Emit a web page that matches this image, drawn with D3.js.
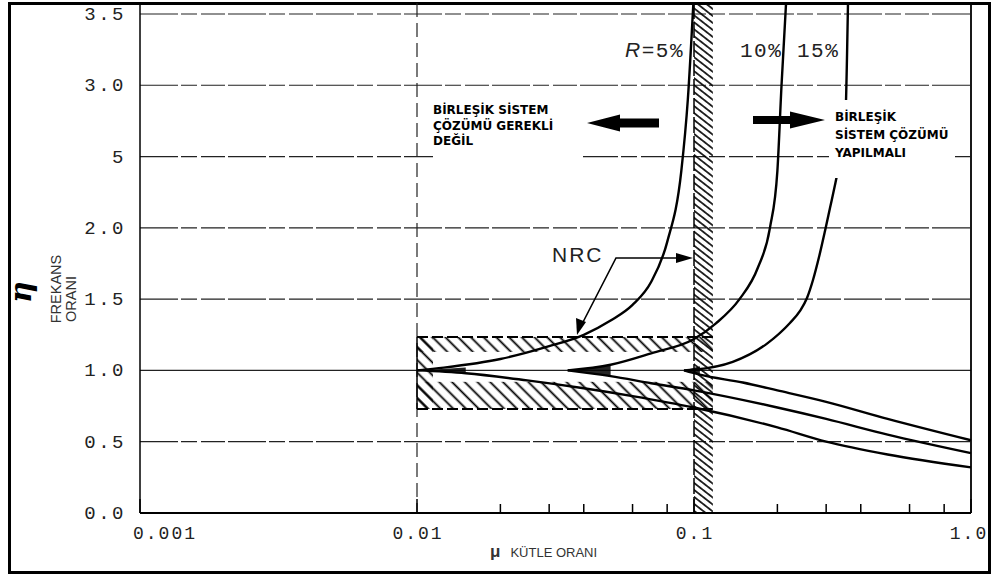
<!DOCTYPE html>
<html><head><meta charset="utf-8">
<script src="https://cdn.jsdelivr.net/npm/d3@7"></script>
<style>body{margin:0;background:#fff}svg{display:block}</style>
</head><body>
<svg id="c" width="992" height="577"></svg>
<script>
// ---- data ----
const xTicks = [0.001, 0.01, 0.1, 1.0];
const xTickLabels = ["0.001", "0.01", "0.1", "1.0"];
const xMinorTicks = [0.02, 0.03, 0.04, 0.06, 0.08, 0.2, 0.3, 0.4, 0.6, 0.8];
const yTicks = [0, 0.5, 1.0, 1.5, 2.0, 2.5, 3.0, 3.5];
const yTickLabels = ["0.0", "0.5", "1.0", "1.5", "2.0", "5", "3.0", "3.5"];
const seriesNames = ["R=5%", "10%", "15%"];
const upper5  = [[0.01,1.0],[0.0125,1.02],[0.02,1.08],[0.03,1.17],[0.04,1.25],[0.05,1.35],[0.06,1.46],[0.07,1.62],[0.08,1.9],[0.09,2.4],[0.095,2.9],[0.0995,3.58]];
const upper10 = [[0.035,1.0],[0.05,1.04],[0.07,1.12],[0.1,1.22],[0.12,1.33],[0.146,1.5],[0.17,1.72],[0.188,2.0],[0.2,2.4],[0.207,3.0],[0.215,3.58]];
const upper15 = [[0.092,1.0],[0.1,1.005],[0.138,1.06],[0.184,1.19],[0.222,1.333],[0.2414,1.417],[0.2558,1.508],[0.2689,1.634],[0.2827,1.795],[0.2971,1.978],[0.3097,2.139],[0.3228,2.3],[0.3365,2.476],[0.3508,2.686],[0.3597,3.577]];
const lower5  = [[0.01,1.0],[0.015,0.98],[0.025,0.93],[0.04,0.875],[0.06,0.82],[0.1,0.74],[0.2,0.6],[0.3,0.5],[0.5,0.41],[1.0,0.32]];
const lower10 = [[0.035,1.0],[0.05,0.96],[0.07,0.91],[0.1,0.86],[0.2,0.74],[0.3,0.66],[0.5,0.55],[1.0,0.42]];
const lower15 = [[0.092,1.0],[0.105,0.97],[0.15,0.915],[0.2,0.86],[0.3,0.78],[0.5,0.66],[1.0,0.51]];
const nrcBox = {muMin: 0.01, muMax: 0.117, etaLow: 0.73, etaHigh: 1.235};
const nrcBand = {muMin: 0.1, muMax: 0.117};
const leftNote = ["BİRLEŞİK SİSTEM", "ÇÖZÜMÜ GEREKLİ", "DEĞİL"];
const rightNote = ["BİRLEŞİK", "SİSTEM ÇÖZÜMÜ", "YAPILMALI"];

// ---- layout ----
const svg = d3.select("#c");
const x = d3.scaleLog().domain([0.001, 1]).range([140, 971]);
const y = d3.scaleLinear().domain([0, 3.577]).range([513, 3]);

// frame
svg.append("rect").attr("x", 9.5).attr("y", 3.5).attr("width", 980).attr("height", 569)
  .attr("fill", "none").attr("stroke", "#000").attr("stroke-width", 3);

const defs = svg.append("defs");
function hatch(id, s, rot, w) {
  const p = defs.append("pattern").attr("id", id).attr("patternUnits", "userSpaceOnUse")
    .attr("width", s).attr("height", s).attr("patternTransform", `rotate(${rot})`);
  p.append("line").attr("x1", s/2).attr("y1", 0).attr("x2", s/2).attr("y2", s)
    .attr("stroke", "#000").attr("stroke-width", w);
}
hatch("hStrip", 9, -45, 1.8);
hatch("hBand", 5.5, -52, 1.6);

// horizontal grid lines
svg.append("g").selectAll("line").data(yTicks.filter(d => d > 0)).join("line")
  .attr("x1", x(0.001)).attr("x2", x(1)).attr("y1", d => y(d)).attr("y2", d => y(d))
  .attr("stroke", "#222").attr("stroke-width", 1.2)
  .attr("stroke-dasharray", d => d === 1.0 ? null : "38,3,16,4,24,3");

// vertical dashed line at 0.01
svg.append("line").attr("x1", x(0.01)).attr("x2", x(0.01)).attr("y1", y(3.577)).attr("y2", y(0))
  .attr("stroke", "#222").attr("stroke-width", 1.2).attr("stroke-dasharray", "14,6");

// NRC hatched box
const bx0 = x(nrcBox.muMin), bx1 = x(nrcBox.muMax), byT = y(nrcBox.etaHigh), byB = y(nrcBox.etaLow);
svg.append("rect").attr("x", bx0).attr("y", byT).attr("width", bx1 - bx0).attr("height", 15).attr("fill", "url(#hStrip)");
svg.append("rect").attr("x", bx0).attr("y", y(0.92)).attr("width", bx1 - bx0).attr("height", byB - y(0.92)).attr("fill", "url(#hStrip)");
svg.append("rect").attr("x", bx0).attr("y", byT).attr("width", 16).attr("height", byB - byT).attr("fill", "url(#hStrip)");
// vertical band
svg.append("rect").attr("x", x(nrcBand.muMin)).attr("y", y(3.577)).attr("width", x(nrcBand.muMax) - x(nrcBand.muMin))
  .attr("height", y(0) - y(3.577)).attr("fill", "url(#hBand)");
svg.append("line").attr("x1", x(nrcBand.muMin)).attr("x2", x(nrcBand.muMin)).attr("y1", y(3.577)).attr("y2", y(0))
  .attr("stroke", "#000").attr("stroke-width", 1.5).attr("stroke-dasharray", "16,3");
[byT, byB].forEach(yy => svg.append("line").attr("x1", bx0).attr("x2", bx1).attr("y1", yy).attr("y2", yy)
  .attr("stroke", "#000").attr("stroke-width", 2).attr("stroke-dasharray", "11,4"));
svg.append("line").attr("x1", bx0).attr("x2", bx0).attr("y1", byT).attr("y2", byB)
  .attr("stroke", "#000").attr("stroke-width", 1.5);

// curves
const line = d3.line().x(d => x(d[0])).y(d => y(d[1])).curve(d3.curveMonotoneX);
[upper5, upper10, upper15, lower5, lower10, lower15].forEach(s =>
  svg.append("path").attr("d", line(s)).attr("fill", "none").attr("stroke", "#000").attr("stroke-width", 2.4));
// dark wedges where each pair of branches leaves the η = 1 line
const area = d3.area().x(d => x(d[0])).y0(d => y(d[1])).y1(d => y(2 - d[1])).curve(d3.curveMonotoneX);
[lower5, lower10, lower15].forEach(s => {
  const pts = s.filter(d => d[0] <= s[0][0] * 1.6);
  svg.append("path").attr("d", area(pts)).attr("fill", "#000").attr("opacity", 0.85);
});

// axes
svg.append("line").attr("x1", x(0.001)).attr("x2", x(0.001)).attr("y1", y(3.577)).attr("y2", y(0)).attr("stroke", "#000").attr("stroke-width", 1.5);
svg.append("line").attr("x1", x(1)).attr("x2", x(1)).attr("y1", y(3.577)).attr("y2", y(0)).attr("stroke", "#000").attr("stroke-width", 1.8);
svg.append("line").attr("x1", x(0.001)).attr("x2", x(1)).attr("y1", y(0)).attr("y2", y(0)).attr("stroke", "#000").attr("stroke-width", 1.8);
svg.append("g").selectAll("line").data(xTicks.concat(xMinorTicks)).join("line")
  .attr("x1", d => x(d)).attr("x2", d => x(d)).attr("y1", y(0)).attr("y2", d => y(0) - (xTicks.includes(d) ? 14 : 9))
  .attr("stroke", "#000").attr("stroke-width", 1.5);

const mono = "'Liberation Mono', 'DejaVu Sans Mono', monospace";
svg.append("g").selectAll("text").data(yTicks).join("text")
  .attr("x", 126).attr("y", d => y(d) + 1).attr("text-anchor", "end").attr("dominant-baseline", "central")
  .attr("font-family", mono).attr("font-size", 19).attr("letter-spacing", 2.5).attr("fill", "#222")
  .text((d, i) => yTickLabels[i]);
svg.append("g").selectAll("text").data(xTicks).join("text")
  .attr("x", (d, i) => i === 0 ? x(d) - 7 : (i === 3 ? x(d) - 2 : x(d) + 1)).attr("y", 539)
  .attr("text-anchor", (d, i) => i === 0 ? "start" : "middle")
  .attr("font-family", mono).attr("font-size", 18).attr("letter-spacing", 2).attr("fill", "#222")
  .text((d, i) => xTickLabels[i]);

// axis titles
svg.append("text").attr("transform", "translate(31,292) rotate(-90)").attr("text-anchor", "middle")
  .attr("font-family", "'DejaVu Serif', serif").attr("font-style", "italic").attr("font-weight", "bold")
  .attr("font-size", 30).text("η");
const sans = "'Liberation Sans', Arial, sans-serif";
svg.append("text").attr("transform", "translate(61,289) rotate(-90)").attr("text-anchor", "middle")
  .attr("font-family", sans).attr("font-size", 14.5).attr("fill", "#333").text("FREKANS");
svg.append("text").attr("transform", "translate(76,299) rotate(-90)").attr("text-anchor", "middle")
  .attr("font-family", sans).attr("font-size", 14.5).attr("fill", "#333").text("ORANI");
const xt = svg.append("text").attr("x", 490).attr("y", 557).attr("font-family", sans).attr("fill", "#333");
xt.append("tspan").attr("font-size", 17).attr("font-weight", "bold").text("μ");
xt.append("tspan").attr("dx", 10).attr("font-size", 13).text("KÜTLE ORANI");

// white knock-outs for notes
svg.append("rect").attr("x", 433).attr("y", 100).attr("width", 150).attr("height", 62).attr("fill", "#fff");
svg.append("rect").attr("x", 829).attr("y", 100).attr("width", 126).attr("height", 78).attr("fill", "#fff");

const bold = "'DejaVu Sans', Verdana, sans-serif";
leftNote.forEach((t, i) => svg.append("text").attr("x", 433).attr("y", 114 + i * 15.5)
  .attr("font-family", bold).attr("font-weight", "bold").attr("font-size", 12).text(t));
rightNote.forEach((t, i) => svg.append("text").attr("x", 835).attr("y", 121 + i * 18)
  .attr("font-family", bold).attr("font-weight", "bold").attr("font-size", 12).text(t));

// big arrows
svg.append("path").attr("d", "M587,123 L620,114.5 L620,118.5 L659,118.5 L659,127.5 L620,127.5 L620,131.5 Z").attr("fill", "#000");
svg.append("path").attr("d", "M825,120 L790,111.5 L790,116 L753,116 L753,124 L790,124 L790,128.5 Z").attr("fill", "#000");

// series labels
const lab = svg.append("text").attr("x", 625).attr("y", 57).attr("font-family", mono).attr("font-size", 21).attr("letter-spacing", 1.5).attr("fill", "#222");
lab.append("tspan").attr("font-style", "italic").attr("font-family", sans).text("R");
lab.append("tspan").text("=5%");
svg.append("text").attr("x", 740).attr("y", 57).attr("font-family", mono).attr("font-size", 21).attr("letter-spacing", 1.5).attr("fill", "#222").text(seriesNames[1]);
svg.append("text").attr("x", 797).attr("y", 57).attr("font-family", mono).attr("font-size", 21).attr("letter-spacing", 1.5).attr("fill", "#222").text(seriesNames[2]);

// NRC label with leaders
svg.append("text").attr("x", 552).attr("y", 262).attr("font-family", sans).attr("font-size", 21).attr("letter-spacing", 2).attr("fill", "#222").text("NRC");
svg.append("path").attr("d", "M678,258 L616,258 L581,326").attr("fill", "none").attr("stroke", "#000").attr("stroke-width", 1.6);
svg.append("path").attr("d", "M693,258 L676,253 L676,263 Z").attr("fill", "#000");
svg.append("path").attr("d", "M577,335 L576,318 L586,322 Z").attr("fill", "#000");
</script>
</body></html>
